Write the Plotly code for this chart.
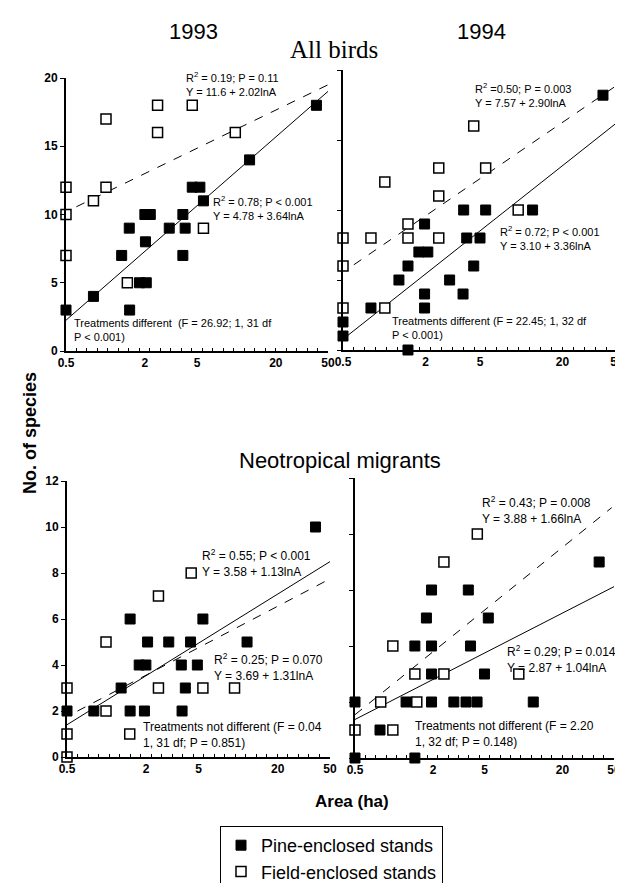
import numpy as np
import plotly.graph_objects as go

# ---------------- data ----------------
# Top-left: All birds 1993
tl_pine_x = [0.5, 0.81, 1.33, 1.52, 1.53, 1.82, 2.05, 2.0, 2.2, 2.02, 3.07, 3.9, 4.06, 3.9, 4.6, 5.26, 5.6, 12.6, 40.8]
tl_pine_y = [3, 4, 7, 9, 3, 5, 5, 10, 10, 8, 9, 10, 9, 7, 12, 12, 11, 14, 18]
tl_field_x = [0.5, 0.5, 0.5, 0.81, 1.01, 1.01, 1.47, 2.5, 2.5, 4.6, 5.6, 9.8]
tl_field_y = [12, 10, 7, 11, 12, 17, 5, 18, 16, 18, 9, 16]

# Top-right: All birds 1994
tr_pine_x = [0.5, 0.5, 0.8, 1.28, 1.49, 1.49, 1.79, 2.08, 1.97, 1.97, 1.97, 3.0, 3.76, 3.8, 4.0, 4.5, 5.0, 5.5, 12.1, 39.5]
tr_pine_y = [2, 1, 3, 5, 6, 0, 7, 7, 9, 4, 3, 5, 4, 10, 8, 6, 8, 10, 10, 18.2]
tr_field_x = [0.5, 0.5, 0.5, 0.8, 1.01, 1.01, 1.49, 1.49, 2.5, 2.5, 2.5, 4.5, 5.5, 9.5]
tr_field_y = [8, 6, 3, 8, 3, 12, 9, 8, 8, 11, 13, 16, 13, 10]

# Bottom-left: Neotropical migrants 1993
bl_pine_x = [0.5, 0.8, 1.29, 1.51, 1.51, 1.77, 1.99, 1.94, 2.05, 2.97, 3.7, 3.75, 3.97, 4.35, 4.9, 5.4, 11.7, 38.8]
bl_pine_y = [2, 2, 3, 6, 2, 4, 4, 2, 5, 5, 4, 2, 3, 5, 4, 6, 5, 10]
bl_field_x = [0.5, 0.5, 0.5, 0.99, 0.99, 1.5, 2.48, 2.48, 4.4, 5.4, 9.4]
bl_field_y = [3, 1, 0, 5, 2, 1, 7, 3, 8, 3, 3]

# Bottom-right: Neotropical migrants 1994
br_pine_x = [0.5, 0.5, 0.78, 1.24, 1.45, 1.45, 1.78, 1.95, 1.95, 1.95, 1.95, 2.9, 3.6, 3.75, 3.9, 4.38, 5.0, 5.35, 11.9, 38.4]
br_pine_y = [2, 0, 1, 2, 4, 0, 5, 6, 4, 3, 2, 2, 2, 6, 4, 2, 3, 5, 2, 7]
br_field_x = [0.5, 0.79, 0.98, 0.98, 1.45, 1.5, 2.43, 2.43, 4.4, 9.2]
br_field_y = [1, 2, 1, 4, 3, 2, 3, 7, 8, 3]

# regression lines: intercept, slope (on ln A), x-extent
tl_pine_fit = [4.78, 3.64, 0.5, 50]
tl_field_fit = [11.6, 2.02, 0.6, 50]
tr_pine_fit = [3.10, 3.36, 0.5, 50]
tr_field_fit = [7.57, 2.90, 0.6, 50]
bl_pine_fit = [2.47, 1.54, 0.5, 50]
bl_field_fit = [2.66, 1.30, 0.6, 50]
br_pine_fit = [2.09, 1.03, 0.5, 50]
br_field_fit = [2.67, 1.62, 0.5, 48]

x_tickvals = [0.5, 2, 5, 20, 50]
x_ticktext = ["0.5", "2", "5", "20", "50"]
top_yticks = [0, 5, 10, 15, 20]
bl_yticks = [0, 2, 4, 6, 8, 10, 12]
br_yticks = [0, 2, 4, 6, 8, 10]

W, H = 623, 883
FONT = "Arial, Liberation Sans, sans-serif"
XR = [np.log10(0.5), np.log10(50)]
minor_vals = list(10 ** np.linspace(XR[0], XR[1], 26)[1:-1])

def px(x):
    return x / W

def py(y):
    return 1 - y / H

fig = go.Figure()

panels = [
    ("x", "y", tl_pine_x, tl_pine_y, tl_field_x, tl_field_y, tl_pine_fit, tl_field_fit),
    ("x2", "y2", tr_pine_x, tr_pine_y, tr_field_x, tr_field_y, tr_pine_fit, tr_field_fit),
    ("x3", "y3", bl_pine_x, bl_pine_y, bl_field_x, bl_field_y, bl_pine_fit, bl_field_fit),
    ("x4", "y4", br_pine_x, br_pine_y, br_field_x, br_field_y, br_pine_fit, br_field_fit),
]

for i, (xa, ya, pxv, pyv, fxv, fyv, pfit, ffit) in enumerate(panels):
    for fit, dash in ((pfit, "solid"), (ffit, "dash")):
        a, b, x0, x1 = fit
        xs = [x0, x1]
        ys = [a + b * np.log(v) for v in xs]
        fig.add_trace(go.Scatter(x=xs, y=ys, mode="lines", xaxis=xa, yaxis=ya,
                                 line=dict(color="black", width=1, dash=dash),
                                 showlegend=False, hoverinfo="skip", cliponaxis=False))
    fig.add_trace(go.Scatter(x=fxv, y=fyv, mode="markers", xaxis=xa, yaxis=ya,
                             marker=dict(symbol="square", size=10, color="white",
                                         line=dict(color="black", width=1.5)),
                             name="Field-enclosed stands", showlegend=(i == 0),
                             legendrank=2, cliponaxis=False))
    fig.add_trace(go.Scatter(x=pxv, y=pyv, mode="markers", xaxis=xa, yaxis=ya,
                             marker=dict(symbol="square", size=10, color="black",
                                         line=dict(color="black", width=1)),
                             name="Pine-enclosed stands", showlegend=(i == 0),
                             legendrank=1, cliponaxis=False))

def xaxis_def(d0, d1, anchor):
    return dict(type="log", range=XR, domain=[px(d0), px(d1)], automargin=False,
                anchor=anchor, tickvals=x_tickvals, ticktext=x_ticktext,
                ticks="", showline=True, linewidth=2, linecolor="black",
                showgrid=False, zeroline=False,
                tickfont=dict(family=FONT, size=12, color="black", weight="bold"),
                minor=dict(tickvals=minor_vals, ticks="inside", ticklen=3,
                           tickcolor="black", tickwidth=1, showgrid=False))

def yaxis_def(b0, b1, anchor, rng, tv, labels=True):
    return dict(range=rng, domain=[py(b0), py(b1)], anchor=anchor, automargin=False,
                tickvals=tv, showticklabels=labels, ticks="outside", ticklen=4,
                tickcolor="black", showline=True, linewidth=2, linecolor="black",
                showgrid=False, zeroline=False,
                tickfont=dict(family=FONT, size=12, color="black", weight="bold"))

fig.update_layout(
    template="none",
    xaxis=xaxis_def(58, 320, "y"),
    yaxis=yaxis_def(343, 70, "x", [0, 20], top_yticks),
    xaxis2=xaxis_def(335, 609, "y2"),
    yaxis2=yaxis_def(342, 62, "x2", [0, 20], top_yticks, labels=False),
    xaxis3=xaxis_def(59, 322, "y3"),
    yaxis3=yaxis_def(749, 473, "x3", [0, 12], bl_yticks),
    xaxis4=xaxis_def(347, 606, "y4"),
    yaxis4=yaxis_def(750, 470, "x4", [0, 10], br_yticks, labels=False),
)

anns = []

def text(x, y, t, size=11, anchor="left", family=FONT, weight="normal", angle=0):
    anns.append(dict(x=px(x), y=py(y), xref="paper", yref="paper", text=t, showarrow=False,
                     xanchor=anchor, yanchor="middle", align="left", textangle=angle,
                     font=dict(family=family, size=size, color="black", weight=weight)))

# titles
text(185, 23, "1993", size=22, anchor="center")
text(473, 23, "1994", size=22, anchor="center")
text(326, 42, "All birds", size=25, anchor="center", family="Liberation Serif, Times New Roman, serif")
text(332, 453, "Neotropical migrants", size=22, anchor="center")
text(22, 425, "No. of species", size=18, anchor="center", weight="bold", angle=-90)
text(344, 793, "Area (ha)", size=17, anchor="center", weight="bold")

# statistics
text(176, 76, "R<sup>2</sup> = 0.19; P = 0.11<br>Y = 11.6 + 2.02lnA")
text(203, 200, "R<sup>2</sup> = 0.78; P < 0.001<br>Y = 4.78 + 3.64lnA")
text(64, 322, "Treatments different  (F = 26.92; 1, 31 df<br>P < 0.001)")
text(465, 87, "R<sup>2</sup> =0.50; P = 0.003<br>Y = 7.57 + 2.90lnA")
text(490, 230, "R<sup>2</sup> = 0.72; P < 0.001<br>Y = 3.10 + 3.36lnA")
text(382, 320, "Treatments different (F = 22.45; 1, 32 df<br>P < 0.001)")
text(192, 555, "R<sup>2</sup> = 0.55; P < 0.001<br>Y = 3.58 + 1.13lnA", size=12)
text(204, 659, "R<sup>2</sup> = 0.25; P = 0.070<br>Y = 3.69 + 1.31lnA", size=12)
text(133, 727, "Treatments not different (F = 0.04<br>1, 31 df; P = 0.851)", size=12)
text(472, 502, "R<sup>2</sup> = 0.43; P = 0.008<br>Y = 3.88 + 1.66lnA", size=12)
text(497, 651, "R<sup>2</sup> = 0.29; P = 0.014<br>Y = 2.87 + 1.04lnA", size=12)
text(405, 726, "Treatments not different (F = 2.20<br>1, 32 df; P = 0.148)", size=12)

fig.update_layout(
    width=W, height=H,
    margin=dict(l=0, r=0, t=0, b=0, pad=0),
    paper_bgcolor="white", plot_bgcolor="white",
    annotations=anns,
    showlegend=True,
    legend=dict(x=px(212), y=0.0, xanchor="left", yanchor="bottom",
                bordercolor="black", borderwidth=1, bgcolor="white",
                font=dict(family=FONT, size=18, color="black"),
                itemwidth=30, tracegroupgap=0),
)

fig.write_html("out.html")
